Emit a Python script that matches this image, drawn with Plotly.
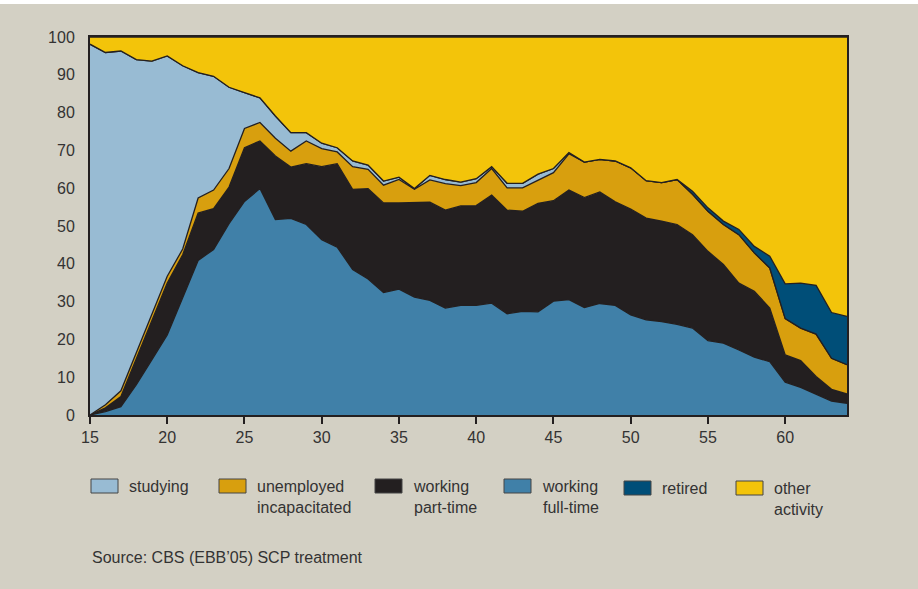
import plotly.graph_objects as go

ages = list(range(15, 65))

full_time = [0, 0.9, 2.2, 8.0, 14.6, 21.2, 31.0, 40.9, 43.8, 50.6,
             56.5, 59.9, 51.7, 52.0, 50.4, 46.4, 44.4, 38.5, 36.0, 32.4,
             33.3, 31.2, 30.3, 28.3, 29.0, 29.0, 29.6, 26.8, 27.4, 27.3,
             30.1, 30.5, 28.4, 29.5, 29.0, 26.5, 25.2, 24.7, 24.0, 23.0,
             19.7, 19.0, 17.2, 15.3, 14.1, 8.7, 7.3, 5.6, 3.7, 3.1]
part_time = [0, 1.0, 2.7, 6.9, 10.3, 13.7, 11.4, 12.5, 10.8, 9.7,
             14.2, 12.6, 16.8, 13.6, 16.1, 19.3, 22.1, 21.2, 23.9, 23.7,
             22.8, 24.9, 26.0, 25.9, 26.3, 26.4, 28.6, 27.4, 26.5, 28.7,
             26.6, 29.0, 29.1, 29.5, 27.4, 28.0, 26.9, 26.6, 26.4, 24.7,
             23.6, 20.8, 17.7, 17.4, 14.2, 7.2, 7.1, 4.6, 3.1, 2.5]
unemployed = [0, 0.8, 1.5, 1.5, 1.6, 1.8, 1.5, 4.0, 4.9, 4.9,
              5.1, 4.9, 4.7, 4.2, 6.0, 4.8, 3.1, 6.0, 5.1, 4.7,
              6.2, 3.6, 5.9, 7.0, 5.4, 6.1, 7.0, 5.9, 6.2, 6.2,
              7.4, 9.6, 9.4, 8.6, 10.8, 10.9, 9.9, 10.2, 11.9, 10.7,
              10.6, 10.6, 12.8, 10.2, 10.6, 9.6, 8.6, 11.2, 8.2, 7.7]
studying = [98.1, 93.2, 89.9, 77.6, 67.1, 58.3, 48.5, 33.2, 30.1, 21.5,
            9.5, 6.5, 5.9, 4.9, 2.2, 1.4, 1.1, 1.5, 1.1, 1.1,
            0.6, 0.2, 1.2, 1.1, 0.9, 1.0, 0.5, 1.2, 1.2, 1.5,
            1.1, 0.3, 0, 0, 0, 0, 0, 0, 0, 0,
            0, 0, 0, 0, 0, 0, 0, 0, 0, 0]
retired = [0] * 39 + [0.8, 0.9, 0.9, 1.4, 1.7, 3.1, 9.2, 11.9, 12.9, 12.1, 12.8]
other = [1.9, 4.1, 3.7, 6.0, 6.4, 5.0, 7.6, 9.4, 10.4, 13.3,
         14.7, 16.1, 20.9, 25.3, 25.3, 28.1, 29.3, 32.8, 33.9, 38.1,
         37.1, 40.1, 36.6, 37.7, 38.4, 37.5, 34.3, 38.7, 38.7, 36.3,
         34.8, 30.6, 33.1, 32.4, 32.8, 34.6, 37.9, 38.5, 37.7, 40.8,
         45.2, 48.7, 50.9, 55.4, 58.0, 65.3, 65.1, 65.7, 72.9, 73.9]

# stacking order, bottom to top
layers = [
    ("working full-time", full_time, "#4080a8"),
    ("working part-time", part_time, "#231f20"),
    ("unemployed incapacitated", unemployed, "#d89f0e"),
    ("studying", studying, "#98bbd3"),
    ("retired", retired, "#004e78"),
    ("other activity", other, "#f3c40a"),
]

legend_labels = ["studying", "unemployed<br>incapacitated", "working<br>part-time",
                 "working<br>full-time", "retired", "other<br>activity"]
legend_colors = ["#98bbd3", "#d89f0e", "#231f20", "#4080a8", "#004e78", "#f3c40a"]

BG = "#d3d0c4"
DARK = "#231f20"
TEXT = "#333333"
TOP = 4  # white strip above the figure

fig = go.Figure()
for name, vals, col in layers:
    fig.add_trace(go.Scatter(
        x=ages, y=vals, name=name, stackgroup="one", mode="lines",
        line=dict(color=DARK, width=1.3), fillcolor=col, showlegend=False,
    ))

# plot area in page pixels: x 90..847, y 37..415
L, R, T, B = 90, 847, 37, 415


def px(x):
    return (x - L) / (R - L)


def py(y):
    return (B - y) / (B - T)


box_x = [91, 219, 375, 504, 624, 736]
box_y = [479, 479, 479, 479, 481, 481]
for i, (lab, col) in enumerate(zip(legend_labels, legend_colors)):
    x0, y0 = box_x[i], box_y[i]
    fig.add_shape(type="rect", xref="paper", yref="paper",
                  x0=px(x0), x1=px(x0 + 27), y0=py(y0), y1=py(y0 + 14),
                  fillcolor=col, line=dict(color="#444444", width=1))
    fig.add_annotation(xref="paper", yref="paper", x=px(x0 + 36), y=py(y0 - 3),
                       text=lab, showarrow=False, xanchor="left", yanchor="top",
                       align="left",
                       font=dict(family="Liberation Sans, Arial, sans-serif",
                                 size=16, color=TEXT))

fig.add_annotation(xref="paper", yref="paper", x=px(90), y=py(557),
                   text="Source: CBS (EBB’05) SCP treatment", showarrow=False,
                   xanchor="left", yanchor="middle",
                   font=dict(family="Liberation Sans, Arial, sans-serif",
                             size=16, color=TEXT))

fig.update_layout(
    width=918, height=589 - TOP,
    margin=dict(l=L, r=918 - R, t=T - TOP, b=589 - B),
    paper_bgcolor=BG, plot_bgcolor=BG,
    font=dict(family="Liberation Sans, Arial, sans-serif", size=16, color=TEXT),
    showlegend=False,
)
fig.update_xaxes(range=[15, 64], tickvals=list(range(15, 65, 5)), ticks="outside",
                 ticklen=7, tickwidth=1.5, tickcolor=DARK, showline=True, linecolor=DARK,
                 linewidth=2, mirror=True, showgrid=False, zeroline=False)
fig.update_yaxes(range=[0, 100], tickvals=list(range(0, 101, 10)), ticks="",
                 ticklabelstandoff=10, showline=True, linecolor=DARK, linewidth=2,
                 mirror=True, showgrid=False, zeroline=False)

fig.write_html("out.html",
               post_script="document.body.style.margin='%dpx 0 0 0';" % TOP)
